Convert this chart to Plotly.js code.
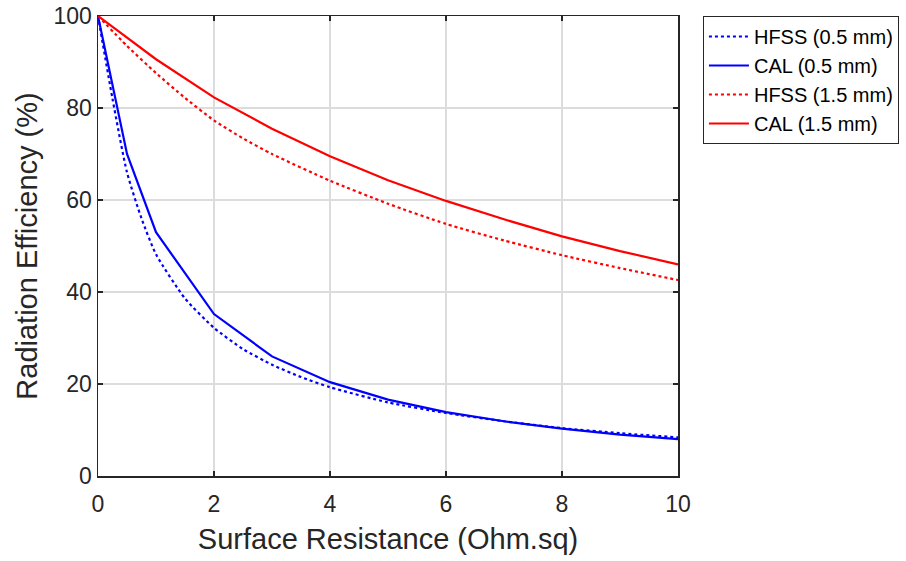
<!DOCTYPE html>
<html>
<head>
<meta charset="utf-8">
<script src="https://cdn.plot.ly/plotly-3.0.1.min.js"></script>
<style>html,body{margin:0;padding:0;background:#fff;}#chart{width:906px;height:561px;}</style>
</head>
<body>
<div id="chart"></div>
<script>
// Surface resistance (Ohm.sq)
const xHfss05 = [0, 0.25, 0.5, 0.75, 1, 1.5, 2, 2.5, 3, 3.5, 4, 5, 6, 7, 8, 9, 10];
const yHfss05 = [100, 82, 66, 56, 48.2, 38.6, 32.2, 27.6, 24.2, 21.5, 19.3, 16.0, 13.7, 11.9, 10.4, 9.3, 8.4];

const xCal05 = [0, 0.5, 1, 2, 3, 4, 5, 6, 7, 8, 9, 10];
const yCal05 = [100, 70, 53, 35.2, 26.0, 20.4, 16.6, 13.9, 11.9, 10.3, 9.0, 8.0];

const xHfss15 = [0, 0.5, 1, 1.5, 2, 2.5, 3, 4, 5, 6, 7, 8, 9, 10];
const yHfss15 = [100, 93.5, 87.6, 82.2, 77.3, 73.4, 70.0, 64.2, 59.2, 54.8, 51.2, 48.0, 45.2, 42.6];

const xCal15 = [0, 0.5, 1, 2, 3, 4, 5, 6, 7, 8, 9, 10];
const yCal15 = [100, 95.3, 90.6, 82.3, 75.5, 69.5, 64.3, 59.8, 55.8, 52.1, 48.9, 46.0];

const xTicks = [0, 2, 4, 6, 8, 10];
const yTicks = [0, 20, 40, 60, 80, 100];

const traces = [
  {x: xHfss05, y: yHfss05, name: 'HFSS (0.5 mm)', mode: 'lines',
   line: {color: '#0000ff', width: 2.2, dash: 'dot', shape: 'spline', smoothing: 0.6}},
  {x: xCal05, y: yCal05, name: 'CAL (0.5 mm)', mode: 'lines',
   line: {color: '#0000ff', width: 2.2}},
  {x: xHfss15, y: yHfss15, name: 'HFSS (1.5 mm)', mode: 'lines',
   line: {color: '#ff0000', width: 2.2, dash: 'dot', shape: 'spline', smoothing: 0.6}},
  {x: xCal15, y: yCal15, name: 'CAL (1.5 mm)', mode: 'lines',
   line: {color: '#ff0000', width: 2.2}}
];

const axisCommon = {
  showline: true, mirror: 'ticks', linecolor: '#262626', linewidth: 1.5,
  ticks: 'inside', ticklen: 5, tickcolor: '#262626', tickwidth: 1.5,
  showgrid: true, gridcolor: '#dcdcdc', gridwidth: 1.5, zeroline: false,
  automargin: false,
  tickfont: {family: 'Liberation Sans, Arial, sans-serif', size: 23, color: '#262626'}
};

const layout = {
  width: 906, height: 561,
  margin: {l: 98, r: 228, t: 16, b: 85, autoexpand: false},
  paper_bgcolor: '#ffffff', plot_bgcolor: '#ffffff',
  font: {family: 'Liberation Sans, Arial, sans-serif', color: '#262626'},
  showlegend: true,
  xaxis: Object.assign({}, axisCommon, {
    range: [0, 10], tickvals: xTicks, ticktext: xTicks.map(String),
    ticklabelstandoff: 7,
    title: {text: 'Surface Resistance (Ohm.sq)', font: {size: 29, color: '#262626'}, standoff: 12}
  }),
  yaxis: Object.assign({}, axisCommon, {
    range: [0, 100], tickvals: yTicks, ticktext: yTicks.map(String),
    title: {text: 'Radiation Efficiency (%)', font: {size: 29, color: '#262626'}, standoff: 7}
  }),
  legend: {
    x: 1.043, y: 1.0, xanchor: 'left', yanchor: 'top',
    bordercolor: '#262626', borderwidth: 1, bgcolor: '#ffffff',
    font: {size: 20, color: '#000000'}, tracegroupgap: 0, itemwidth: 40
  }
};

Plotly.newPlot('chart', traces, layout, {displayModeBar: false, staticPlot: true});
</script>
</body>
</html>
